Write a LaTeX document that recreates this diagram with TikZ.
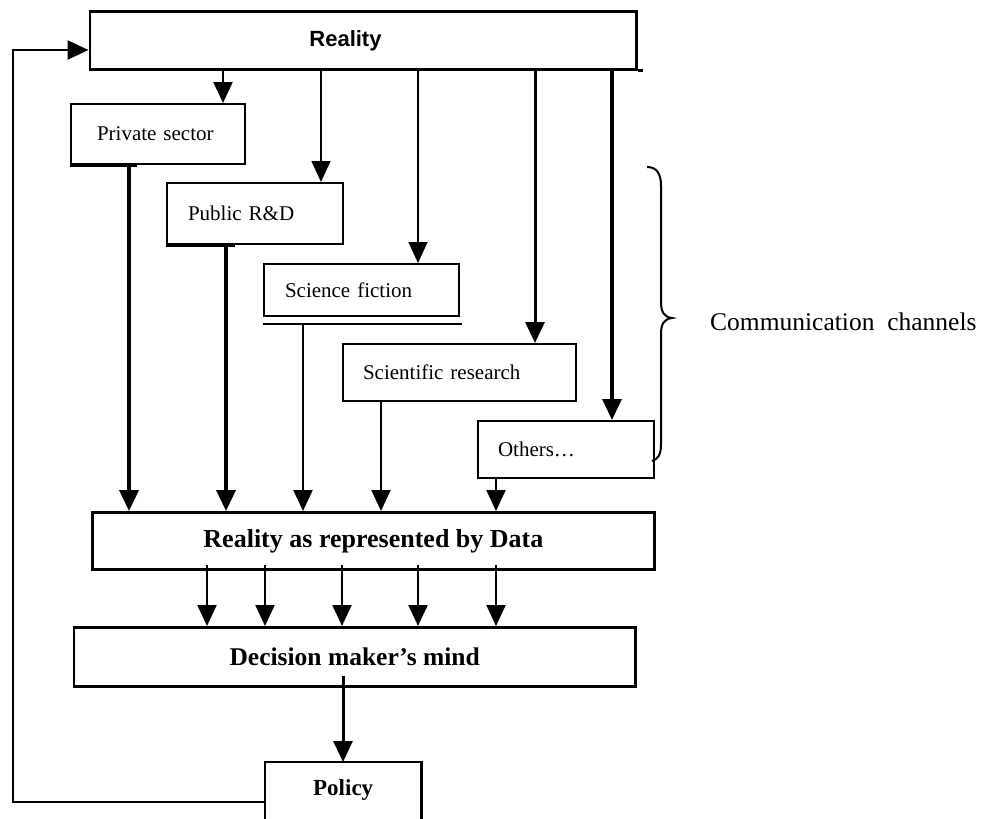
\documentclass[tikz,border=0pt]{standalone}
\usepackage{fontspec}
\setmainfont{Liberation Serif}
\newfontfamily\arialfont{Liberation Sans}
\usetikzlibrary{arrows.meta}
\tikzset{
  chanbox/.style={draw, line width=2pt, inner ysep=0pt, anchor=north west, align=left, font=\fontsize{21}{25}\selectfont},
  bigbox/.style={draw, line width=2.8pt, inner sep=0pt, anchor=north west},
  tipstyle/.style={-{Triangle[length=21pt,width=19pt]}},
  arrthin/.style={tipstyle, line width=1.6pt},
  arrmed/.style={tipstyle, line width=2.2pt},
  arrheavy/.style={tipstyle, line width=3pt},
  arrthick/.style={tipstyle, line width=3.6pt},
  plainline/.style={line width=2.8pt},
}
\begin{document}
\begin{tikzpicture}[x=1pt,y=-1pt]
\useasboundingbox (0,0) rectangle (986,819);

% top box
\node[bigbox, minimum width=546.5pt, minimum height=58pt, inner xsep=219.5pt, text width=107.5pt, align=left,
      font=\arialfont\bfseries\fontsize{22}{26}\selectfont] (reality) at (88.5,10) {Reality};
\draw[plainline] (reality.south east) -- ++(5,0);

% channel boxes
\node[chanbox, minimum width=174pt, minimum height=60pt, inner xsep=26pt, text width=122pt] (priv) at (70,103) {Private sector};
\node[chanbox, minimum width=176pt, minimum height=61pt, inner xsep=21pt, text width=134pt] (pub) at (166,182) {Public R\&D};
\node[chanbox, minimum width=195pt, minimum height=52pt, inner xsep=21pt, text width=153pt] (scif) at (263,263) {Science fiction};
\node[chanbox, minimum width=233pt, minimum height=57pt, inner xsep=20pt, text width=193pt] (scir) at (342,343) {Scientific research};
\node[chanbox, minimum width=176pt, minimum height=57pt, inner xsep=20pt, text width=136pt] (oth) at (477,420) {Others…};

% heavier bottom edges (print shadows)
\draw[line width=2pt] ([yshift=-7pt]scif.south west) -- ([xshift=2pt,yshift=-7pt]scif.south east);
\draw[line width=2.6pt] ([yshift=-1pt]priv.south west) -- ([xshift=67pt,yshift=-1pt]priv.south west);
\draw[line width=2.6pt] ([yshift=-1pt]pub.south west) -- ([xshift=69pt,yshift=-1pt]pub.south west);

% lower boxes
\node[bigbox, minimum width=562pt, minimum height=57pt, font=\bfseries\fontsize{26}{30}\selectfont] (data) at (91,511) {Reality as represented by Data};
\node[bigbox, minimum width=561.4pt, minimum height=59pt, font=\bfseries\fontsize{25.5}{30}\selectfont] (dec) at (72.6,626) {Decision maker’s mind};
\node[anchor=north west, inner sep=0pt, minimum width=156pt, minimum height=56pt, font=\bfseries\fontsize{23}{27}\selectfont] (pol) at (265,762) {Policy};
\draw[plainline] ([yshift=-12pt]pol.south west) -- (pol.north west) -- (pol.north east) -- ([yshift=-12pt]pol.south east);

% x positions
\coordinate (c1) at (223,0);
\coordinate (c2) at (321,0);
\coordinate (c3) at (418,0);
\coordinate (c4) at (535,0);
\coordinate (c5) at (612,0);
\coordinate (d1) at (129,0);
\coordinate (d2) at (226,0);
\coordinate (d3) at (303,0);
\coordinate (d4) at (381,0);
\coordinate (d5) at (496,0);
\coordinate (e1) at (207,0);
\coordinate (e2) at (265,0);
\coordinate (e3) at (342,0);
\coordinate (e4) at (418,0);
\coordinate (e5) at (496,0);
\coordinate (f1) at (343,0);

% Reality -> channels
\draw[arrmed]   (reality.south -| c1) -- (priv.north -| c1);
\draw[arrthin]  (reality.south -| c2) -- (pub.north -| c2);
\draw[arrthin]  (reality.south -| c3) -- (scif.north -| c3);
\draw[arrheavy] (reality.south -| c4) -- (scir.north -| c4);
\draw[arrthick] (reality.south -| c5) -- (oth.north -| c5);

% channels -> data
\draw[arrthick] (priv.south -| d1) -- (data.north -| d1);
\draw[arrthick] (pub.south -| d2) -- (data.north -| d2);
\draw[arrmed]   ([yshift=-7pt]scif.south -| d3) -- (data.north -| d3);
\draw[arrmed]   (scir.south -| d4) -- (data.north -| d4);
\draw[arrmed]   (oth.south -| d5) -- (data.north -| d5);

% data -> decision
\draw[arrmed] ([yshift=6pt]data.south -| e1) -- (dec.north -| e1);
\draw[arrmed] ([yshift=6pt]data.south -| e2) -- (dec.north -| e2);
\draw[arrmed] ([yshift=6pt]data.south -| e3) -- (dec.north -| e3);
\draw[arrmed] ([yshift=6pt]data.south -| e4) -- (dec.north -| e4);
\draw[arrmed] ([yshift=6pt]data.south -| e5) -- (dec.north -| e5);

% decision -> policy
\draw[arrheavy] ([yshift=12pt]dec.south -| f1) -- (pol.north -| f1);

% feedback loop
\coordinate (fb1) at (13,802);
\coordinate (fb2) at (13,50);
\draw[line width=2.6pt, -{Triangle[length=21pt,width=19pt]}] (pol.west |- fb1) -- (fb1) -- (fb2) -- (reality.west |- fb2);

% brace and label
\draw[line width=2pt] (647,167) .. controls (657,167) and (661,174) .. (661,186) -- (661,302)
   .. controls (661,312) and (664,317) .. (672,318)
   .. controls (664,319) and (661,324) .. (661,334) -- (661,444)
   .. controls (661,455) and (658,459) .. (652,461);
\node[anchor=west, inner sep=0pt, font=\fontsize{25.5}{30}\selectfont] (chan) at (710,322) {Communication\ \ channels};
\end{tikzpicture}
\end{document}
